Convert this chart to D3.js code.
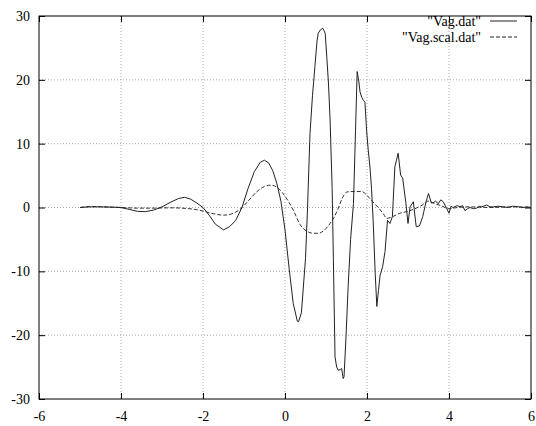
<!DOCTYPE html>
<html>
<head>
<meta charset="utf-8">
<script src="https://cdn.jsdelivr.net/npm/d3@7"></script>
<style>
  body { margin: 0; background: #fff; }
</style>
</head>
<body>
<svg id="chart" width="536" height="426"></svg>
<script>
// data
const xTicks = [-6, -4, -2, 0, 2, 4, 6];
const yTicks = [-30, -20, -10, 0, 10, 20, 30];
const seriesNames = ['"Vag.dat"', '"Vag.scal.dat"'];

const vagX = [-5.0, -4.8, -4.5, -4.2, -4.0, -3.8, -3.6, -3.4, -3.2, -3.0, -2.8, -2.6, -2.45, -2.3, -2.15, -2.0,
  -1.85, -1.7, -1.5, -1.35, -1.2, -1.05, -0.9, -0.75, -0.6, -0.5, -0.4, -0.3, -0.2, -0.1, 0.0, 0.1, 0.2, 0.3,
  0.33, 0.4, 0.5, 0.55, 0.61, 0.67, 0.73, 0.78, 0.81, 0.86, 0.92, 0.95, 0.98, 1.02, 1.06, 1.1, 1.15, 1.18,
  1.22, 1.26, 1.3, 1.35, 1.38, 1.42, 1.44, 1.49, 1.54, 1.6, 1.67, 1.72, 1.76, 1.8, 1.83, 1.87, 1.91, 1.95,
  1.99, 2.03, 2.07, 2.11, 2.15, 2.2, 2.24, 2.28, 2.32, 2.38, 2.44, 2.5, 2.56, 2.62, 2.68, 2.76, 2.82, 2.87,
  2.95, 3.0, 3.05, 3.13, 3.2, 3.28, 3.36, 3.44, 3.5, 3.57, 3.63, 3.67, 3.74, 3.8, 3.86, 3.94, 4.0, 4.05,
  4.1, 4.2, 4.27, 4.33, 4.39, 4.45, 4.51, 4.6, 4.67, 4.75, 4.8, 4.92, 5.0, 5.08, 5.2, 5.32, 5.45, 5.55,
  5.65, 5.8, 5.9, 6.0];
const vagY = [0.0, 0.1, 0.1, 0.05, 0.0, -0.3, -0.6, -0.65, -0.4, 0.1, 0.8, 1.4, 1.6, 1.3, 0.7, 0.0,
  -1.2, -2.6, -3.5, -3.0, -2.0, 0.0, 3.0, 5.6, 7.1, 7.4, 7.0, 5.8, 3.8, 1.0, -3.5, -9.5, -15.0, -17.8,
  -17.9, -16.5, -8.0, 0.0, 11.6, 17.5, 22.1, 26.0, 27.3, 27.8, 28.1, 27.7, 27.3, 23.5, 19.5, 13.7, 3.0, -8.2,
  -23.4, -25.0, -25.5, -25.4, -25.2, -26.8, -26.5, -20.0, -12.4, -5.0, 0.65, 12.0, 21.3, 19.8, 18.1, 17.3, 16.8, 16.5,
  12.1, 9.0, 6.5, 3.0, -2.0, -10.3, -15.5, -13.0, -10.6, -9.3, -6.9, -2.0, -2.5, -1.4, 6.4, 8.5, 5.1, 4.6,
  0.65, -2.5, 0.1, 0.9, -3.0, -2.9, -1.4, 0.9, 2.2, 0.7, 0.8, 1.0, 0.6, 1.2, 0.9, -0.1, -0.9, 0.2,
  0.0, 0.3, 0.1, 0.3, -0.5, -0.2, 0.0, -0.2, -0.1, 0.2, 0.1, 0.4, 0.1, 0.1, 0.2, 0.1, 0.0, 0.2,
  0.15, 0.0, 0.1, 0.0];

const scalX = [-5.0, -4.7, -4.4, -4.0, -3.6, -3.2, -2.8, -2.4, -2.1, -1.8, -1.5, -1.3, -1.1, -0.9, -0.7, -0.5,
  -0.35, -0.2, -0.05, 0.08, 0.2, 0.37, 0.53, 0.65, 0.81, 0.95, 1.1, 1.2, 1.3, 1.4, 1.5, 1.6, 1.75, 1.87,
  1.97, 2.07, 2.2, 2.3, 2.4, 2.48, 2.6, 2.8, 3.0, 3.2, 3.35, 3.5, 3.65, 3.8, 4.0, 4.2, 4.5, 5.0, 5.5, 6.0];
const scalY = [0.0, 0.15, 0.1, 0.0, -0.1, -0.1, -0.05, -0.15, -0.4, -0.9, -1.2, -1.0, -0.3, 1.0, 2.4, 3.3,
  3.5, 3.2, 2.2, 1.0, -0.4, -2.7, -3.7, -4.0, -4.05, -3.6, -2.5, -1.5, -0.1, 1.5, 2.4, 2.5, 2.5, 2.5,
  2.1, 1.4, 0.5, -0.2, -1.0, -1.7, -1.5, -0.9, -0.6, -0.1, 0.4, 1.0, 0.6, 0.3, -0.2, 0.0, 0.1, 0.0, 0.1, 0.0];

const FONT = '"Liberation Serif", "Times New Roman", Times, "DejaVu Serif", serif';

const margin = {top: 16, right: 5, bottom: 27, left: 39};
const width = 536 - margin.left - margin.right,
    height = 426 - margin.top - margin.bottom;

const svg = d3.select('#chart');
const g = svg.append('g').attr('transform', `translate(${margin.left},${margin.top})`);

const x = d3.scaleLinear().domain([-6, 6]).range([0, width]);
const y = d3.scaleLinear().domain([-30, 30]).range([height, 0]);

// grid
g.append('g').selectAll('line')
  .data(xTicks.slice(1, -1))
  .join('line')
  .attr('x1', d => x(d)).attr('x2', d => x(d))
  .attr('y1', 0).attr('y2', height)
  .attr('stroke', '#aaa').attr('stroke-width', 1).attr('stroke-dasharray', '1,2');
g.append('g').selectAll('line')
  .data(yTicks.slice(1, -1))
  .join('line')
  .attr('y1', d => y(d)).attr('y2', d => y(d))
  .attr('x1', 0).attr('x2', width)
  .attr('stroke', '#aaa').attr('stroke-width', 1).attr('stroke-dasharray', '1,2');

// tick labels (plain hyphen minus like gnuplot)
const fmt = d => String(d);
const xAxis = g.append('g').attr('transform', `translate(0,${height})`)
  .call(d3.axisBottom(x).tickValues(xTicks).tickSize(0).tickPadding(12).tickFormat(fmt));
const yAxis = g.append('g')
  .call(d3.axisLeft(y).tickValues(yTicks).tickSize(0).tickPadding(9).tickFormat(fmt));
[xAxis, yAxis].forEach(a => {
  a.select('.domain').remove();
  a.attr('font-family', null).attr('font-size', null);
  a.selectAll('text').style('font-family', FONT).style('font-size', '14px').attr('fill', '#000');
});

// inward tick marks on all four sides
const noDomain = a => a.select('.domain').remove();
g.append('g').attr('transform', `translate(0,${height})`)
  .call(d3.axisBottom(x).tickValues(xTicks).tickSize(-6).tickFormat('')).call(noDomain);
g.append('g')
  .call(d3.axisTop(x).tickValues(xTicks).tickSize(-6).tickFormat('')).call(noDomain);
g.append('g')
  .call(d3.axisLeft(y).tickValues(yTicks).tickSize(-6).tickFormat('')).call(noDomain);
g.append('g').attr('transform', `translate(${width},0)`)
  .call(d3.axisRight(y).tickValues(yTicks).tickSize(-6).tickFormat('')).call(noDomain);

g.append('rect')
  .attr('x', 0).attr('y', 0).attr('width', width).attr('height', height)
  .attr('fill', 'none').attr('stroke', '#000').attr('stroke-width', 1);

// curves
const line = d3.line().x(d => x(d[0])).y(d => y(d[1]));
const vag = vagX.map((v, i) => [v, vagY[i]]);
const scal = scalX.map((v, i) => [v, scalY[i]]);

g.append('path').datum(scal).attr('d', line.curve(d3.curveMonotoneX))
  .attr('fill', 'none').attr('stroke', '#333').attr('stroke-width', 1).attr('stroke-dasharray', '4,2');
g.append('path').datum(vag).attr('d', line.curve(d3.curveLinear))
  .attr('fill', 'none').attr('stroke', '#222').attr('stroke-width', 1);

// legend
const legend = g.append('g').attr('transform', `translate(${width - 50},0)`);
seriesNames.forEach((name, i) => {
  const ly = 5 + i * 16;
  legend.append('text').attr('x', 0).attr('y', ly).attr('dy', '0.35em')
    .attr('text-anchor', 'end')
    .style('font-family', FONT).style('font-size', '14px')
    .text(name);
  legend.append('line').attr('x1', 9).attr('x2', 36).attr('y1', ly).attr('y2', ly)
    .attr('stroke', '#222').attr('stroke-width', 1)
    .attr('stroke-dasharray', i === 1 ? '4,2' : null);
});
</script>
</body>
</html>
